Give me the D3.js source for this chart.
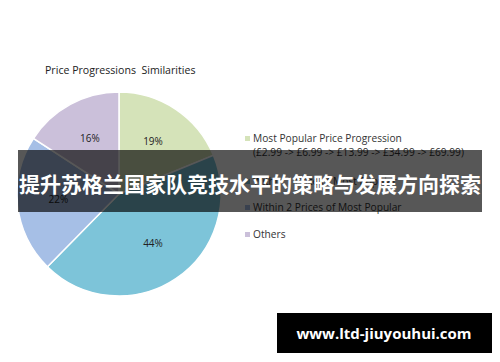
<!DOCTYPE html>
<html>
<head>
<meta charset="utf-8">
<script src="https://cdn.jsdelivr.net/npm/d3@7"></script>
<style>
body { margin: 0; background: #fff; }
svg { display: block; }
</style>
</head>
<body>
<svg></svg>
<script>
var svgWidth = 500;
var svgHeight = 362;

// chart data
var categories = [
    "Most Popular Price Progression",
    "Within 1 Price of Most Popular",
    "Within 2 Prices of Most Popular",
    "Others"
];
var subLabel = "(£2.99 -> £6.99 -> £13.99 -> £34.99 -> £69.99)";
var values = [19, 44, 22, 16];
var colors = ["#d5e3b9", "#7dc4d9", "#a6bfe6", "#cbc0da"];
var title = "Price Progressions  Similarities";
var banner = "提升苏格兰国家队竞技水平的策略与发展方向探索";
var watermark = "www.ltd-jiuyouhui.com";

var cx = 119, cy = 194, radius = 102;

var svg = d3.select("svg")
    .attr("width", svgWidth)
    .attr("height", svgHeight);

svg.append("text")
    .attr("x", 45)
    .attr("y", 74)
    .attr("font-family", "Open Sans, sans-serif")
    .attr("font-size", 10.6)
    .attr("fill", "#222")
    .style("white-space", "pre")
    .text(title);

var pie = d3.pie().sort(null).value(function (d) { return d; });
var arc = d3.arc().innerRadius(0).outerRadius(radius);
var labelArc = d3.arc().innerRadius(61).outerRadius(61);

var g = svg.append("g").attr("transform", "translate(" + cx + "," + cy + ")");

g.selectAll("path")
    .data(pie(values))
    .enter()
    .append("path")
    .attr("d", arc)
    .attr("fill", function (d, i) { return colors[i]; })
    .attr("stroke", "#fff")
    .attr("stroke-width", 1.5);

g.selectAll(".pct")
    .data(pie(values))
    .enter()
    .append("text")
    .attr("class", "pct")
    .attr("transform", function (d) { return "translate(" + labelArc.centroid(d) + ")"; })
    .attr("text-anchor", "middle")
    .attr("dy", "0.2em")
    .attr("font-family", "Open Sans, sans-serif")
    .attr("font-size", 10)
    .attr("fill", "#222")
    .text(function (d) { return d.value + "%"; });

// legend
var legendY = d3.scalePoint().domain(categories).range([142, 238]);

var legend = svg.append("g")
    .selectAll("g")
    .data(categories)
    .enter()
    .append("g")
    .attr("transform", function (d, i) {
        var y = legendY(d) + (i == 1 ? 11 : 0) + (i == 2 ? 5 : 0);
        return "translate(245," + y + ")";
    });

legend.append("rect")
    .attr("x", 0)
    .attr("y", -6)
    .attr("width", 5)
    .attr("height", 5)
    .attr("fill", function (d, i) { return colors[i]; });

legend.append("text")
    .attr("x", 8)
    .attr("y", 0)
    .attr("font-family", "Open Sans, sans-serif")
    .attr("font-size", 10.2)
    .attr("fill", "#333")
    .text(function (d) { return d; });

svg.append("text")
    .attr("x", 253)
    .attr("y", 156)
    .attr("font-family", "Open Sans, sans-serif")
    .attr("font-size", 10.2)
    .attr("fill", "#333")
    .text(subLabel);

// overlay banner
svg.append("rect")
    .attr("x", 18)
    .attr("y", 150)
    .attr("width", 464)
    .attr("height", 62)
    .attr("fill", "rgba(0,0,0,0.66)");

svg.append("text")
    .attr("x", 250)
    .attr("y", 192)
    .attr("text-anchor", "middle")
    .attr("font-family", "Noto Sans CJK SC, sans-serif")
    .attr("font-weight", "bold")
    .attr("font-size", 21)
    .attr("fill", "#fff")
    .text(banner);

// watermark
svg.append("rect")
    .attr("x", 277)
    .attr("y", 313)
    .attr("width", 215)
    .attr("height", 40)
    .attr("fill", "#000");

svg.append("text")
    .attr("x", 384)
    .attr("y", 339)
    .attr("text-anchor", "middle")
    .attr("font-family", "Open Sans, sans-serif")
    .attr("font-weight", "bold")
    .attr("font-size", 15)
    .attr("fill", "#fff")
    .text(watermark);
</script>
</body>
</html>
